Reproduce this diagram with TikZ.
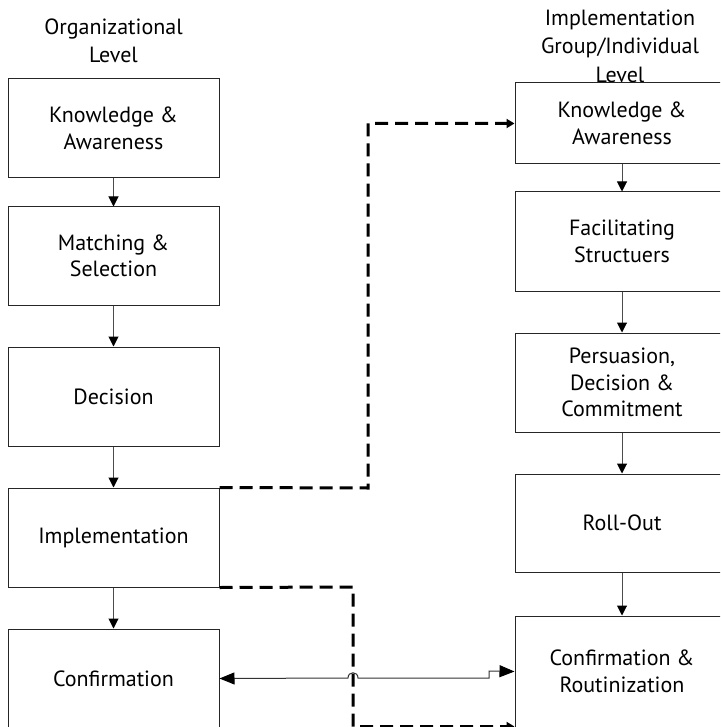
\documentclass[tikz,border=0pt]{standalone}
\usepackage{fontspec}
\setmainfont{PT Sans}
\usetikzlibrary{arrows.meta}
\begin{document}
\begin{tikzpicture}[x=1pt,y=-1pt,
  box/.style={draw=black!85, line width=1pt, align=center, inner sep=0pt,
    font=\fontsize{22}{26.5}\selectfont},
  lbox/.style={box, minimum width=211pt},
  rbox/.style={box, minimum width=214pt},
  hdr/.style={align=center, font=\fontsize{22}{28.5}\selectfont},
  conn/.style={draw=black!70, line width=1pt, -{Triangle[length=10pt,width=10pt,color=black]}},
  dconn/.style={line width=3pt, dash pattern=on 13pt off 7pt, -{Triangle[length=8pt,width=9pt]}},
  twoway/.style={draw=black!80, line width=1pt, {Triangle[length=15pt,width=12pt,color=black]}-{Triangle[length=15pt,width=12pt,color=black]}}
]
\useasboundingbox (0,0) rectangle (720,727);
\clip (0,0) rectangle (720,727);

\node[hdr] (hL) at (113.5,41) {Organizational\\Level};
\node[hdr] (hR) at (620,46) {Implementation\\Group/Individual\\Level};

\node[lbox, minimum height=99pt] (kaL) at (113.5,128.5) {Knowledge \&\\Awareness};
\node[lbox, minimum height=98pt] (msL) at (113.5,256) {Matching \&\\Selection};
\node[lbox, minimum height=99pt] (decL) at (113.5,396.5) {Decision};
\node[lbox, minimum height=99pt] (impL) at (113.5,537.5) {Implementation};
\node[lbox, minimum height=99pt] (conL) at (113.5,678.5) {Confirmation};

\node[rbox, minimum height=81pt] (kaR) at (622,123.5) {Knowledge \&\\Awareness};
\node[rbox, minimum height=99pt] (fsR) at (622,241.5) {Facilitating\\Structuers};
\node[rbox, minimum height=99pt] (pdR) at (622,382.5) {Persuasion,\\Decision \&\\Commitment};
\node[rbox, minimum height=98pt] (roR) at (622,523) {Roll-Out};
\node[rbox, minimum height=111pt] (crR) at (622,671.5) {Confirmation \&\\Routinization};

\draw[conn] (kaL) -- (msL);
\draw[conn] (msL) -- (decL);
\draw[conn] (decL) -- (impL);
\draw[conn] (impL) -- (conL);

\draw[conn] (kaR) -- (fsR);
\draw[conn] (fsR) -- (pdR);
\draw[conn] (pdR) -- (roR);
\draw[conn] (roR) -- (crR);

\coordinate (j1) at (368,488);
\coordinate (j2) at (353,587);
\coordinate (e2) at ([yshift=1pt]crR.south west);
\draw[dconn] (impL.north east) -- (j1) |- (kaR.west);
\draw[dconn] (impL.south east) -- (j2) |- (e2);

\coordinate (h1) at (348,678);
\coordinate (h2) at (358,678);
\coordinate (s1) at (489,678);
\coordinate (s2) at (489,671);
\draw[twoway] (conL.east) -- (h1) .. controls (348,671) and (358,671) .. (h2) -- (s1) -- (s2) -- (crR.west);
\end{tikzpicture}
\end{document}
